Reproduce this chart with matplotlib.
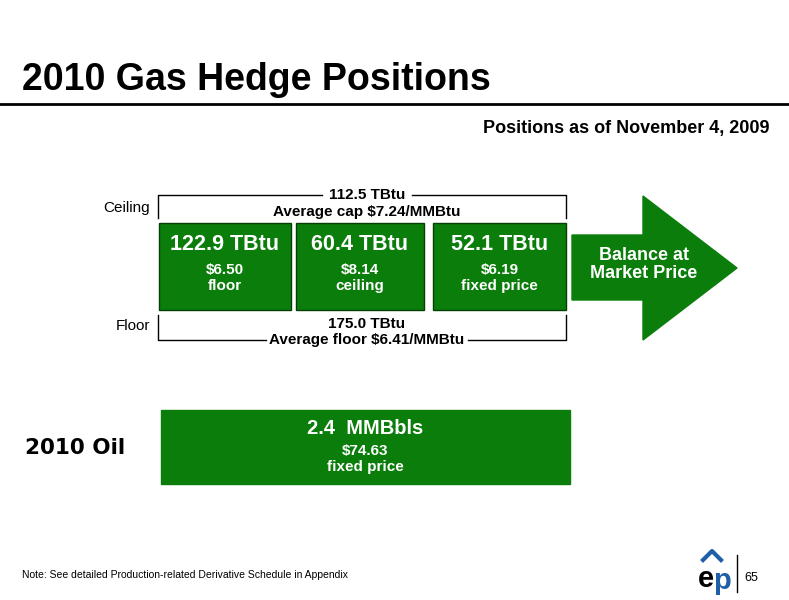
import matplotlib.pyplot as plt
from matplotlib.patches import Rectangle, Polygon

plt.rcParams['font.family'] = ['Liberation Sans', 'DejaVu Sans']

# Slide data
volumes = ["122.9 TBtu", "60.4 TBtu", "52.1 TBtu"]
prices = ["$6.50", "$8.14", "$6.19"]
kinds = ["floor", "ceiling", "fixed price"]
cap_total, cap_avg = "112.5 TBtu", "Average cap $7.24/MMBtu"
floor_total, floor_avg = "175.0 TBtu", "Average floor $6.41/MMBtu"
oil_volume, oil_price, oil_kind = "2.4  MMBbls", "$74.63", "fixed price"

green = '#0b7d0b'
edge = '#063f06'

fig = plt.figure(figsize=(7.89, 6.0), dpi=100)
ax = fig.add_axes([0, 0, 1, 1])
ax.set_xlim(0, 789)
ax.set_ylim(600, 0)
ax.axis('off')

ax.text(22, 80, "2010 Gas Hedge Positions", fontsize=27, fontweight='bold', va='center')
ax.plot([0, 789], [104, 104], color='black', lw=2)
ax.text(770, 128, "Positions as of November 4, 2009", fontsize=13, fontweight='bold',
        ha='right', va='center')

# gas boxes
xs = [(159, 291), (296, 424), (433, 566)]
for (x0, x1), v, p, k in zip(xs, volumes, prices, kinds):
    ax.add_patch(Rectangle((x0, 223), x1 - x0, 87, fc=green, ec=edge, lw=1))
    cx = (x0 + x1) / 2
    ax.text(cx, 245, v, color='white', fontsize=15.5, fontweight='bold', ha='center', va='center')
    ax.text(cx, 270, p, color='white', fontsize=11, fontweight='bold', ha='center', va='center')
    ax.text(cx, 286, k, color='white', fontsize=11, fontweight='bold', ha='center', va='center')

# arrow
ax.add_patch(Polygon([(572, 235), (643, 235), (643, 196), (737, 268), (643, 340),
                      (643, 300), (572, 300)], closed=True, fc=green, ec=green))
ax.text(644, 256, "Balance at", color='white', fontsize=13, fontweight='bold', ha='center', va='center')
ax.text(644, 274, "Market Price", color='white', fontsize=13, fontweight='bold', ha='center', va='center')

# brackets
lk = dict(color='black', lw=1)
ax.plot([158, 158, 322], [218, 195, 195], **lk)
ax.plot([412, 566, 566], [195, 195, 218], **lk)
ax.text(367, 195, cap_total, fontsize=11, fontweight='bold', ha='center', va='center')
ax.text(367, 212, cap_avg, fontsize=11, fontweight='bold', ha='center', va='center')
ax.plot([158, 158, 266], [315, 340, 340], **lk)
ax.plot([468, 566, 566], [340, 340, 315], **lk)
ax.text(367, 324, floor_total, fontsize=11, fontweight='bold', ha='center', va='center')
ax.text(367, 340, floor_avg, fontsize=11, fontweight='bold', ha='center', va='center')
ax.text(150, 208, "Ceiling", fontsize=11, ha='right', va='center')
ax.text(150, 326, "Floor", fontsize=11, ha='right', va='center')

# oil
ax.add_patch(Rectangle((161, 410), 409, 74, fc=green, ec=green))
ax.text(365, 428, oil_volume, color='white', fontsize=14.5, fontweight='bold', ha='center', va='center')
ax.text(365, 451, oil_price, color='white', fontsize=11, fontweight='bold', ha='center', va='center')
ax.text(365, 467, oil_kind, color='white', fontsize=11, fontweight='bold', ha='center', va='center')
ax.text(25, 448, "2010 Oil", fontsize=15.5, fontweight='heavy', family='DejaVu Sans', va='center')

ax.text(22, 575, "Note: See detailed Production-related Derivative Schedule in Appendix",
        fontsize=7.5, va='center')

# logo
ax.text(706, 579, "e", fontsize=21, fontweight='bold', color='black', ha='center', va='center')
ax.text(722, 581, "p", fontsize=21, fontweight='bold', color='#1f5fa8', ha='center', va='center')
ax.plot([703, 712, 721], [560, 551, 560], color='#1f5fa8', lw=3)
ax.plot([737, 737], [555, 592], color='black', lw=1)
ax.text(744, 578, "65", fontsize=9, va='center')

fig.savefig("out.png", dpi=100)
